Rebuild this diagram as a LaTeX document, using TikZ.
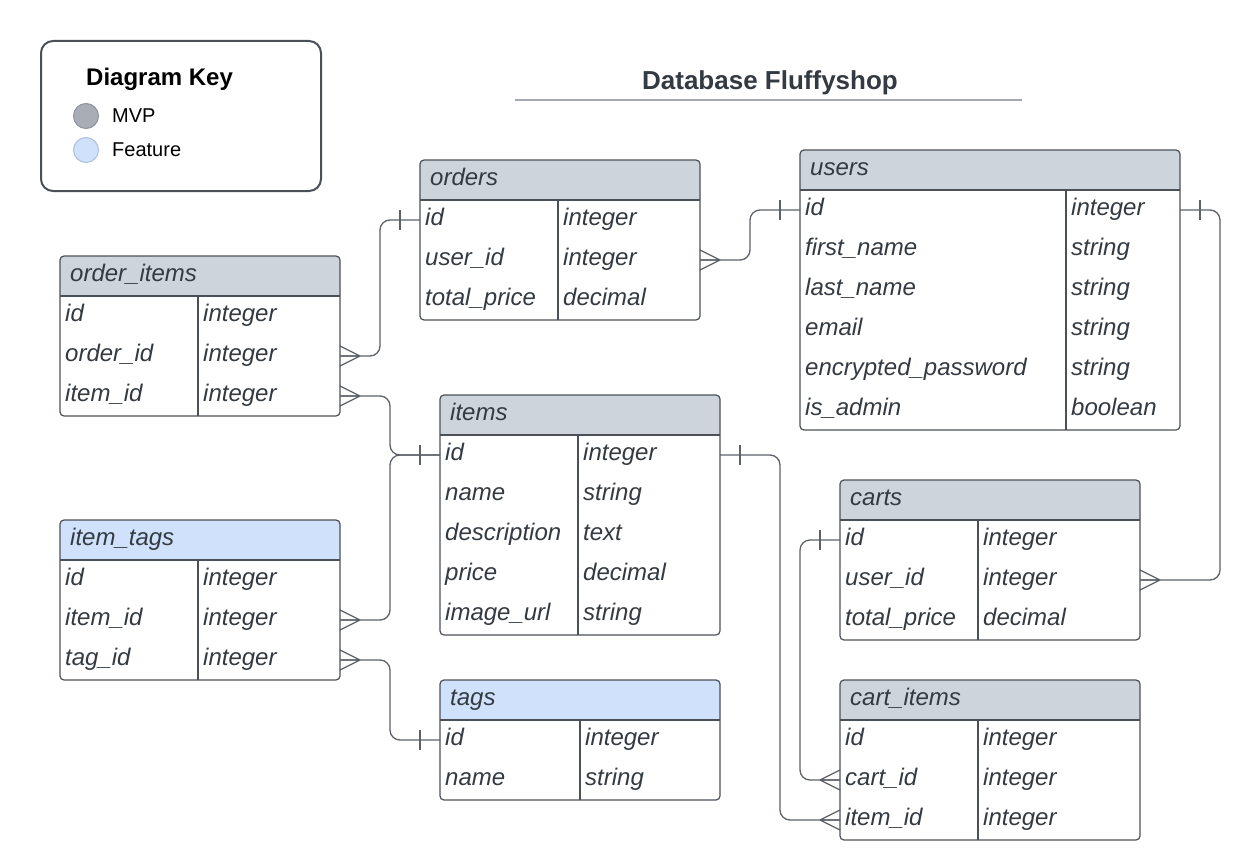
\documentclass[tikz,border=0pt]{standalone}
\usepackage{fontspec}
\setmainfont{Liberation Sans}
\usetikzlibrary{positioning}

\definecolor{hdgray}{HTML}{CED4DB}
\definecolor{hdblue}{HTML}{D0E2FB}
\definecolor{edge}{HTML}{4B5058}
\definecolor{ink}{HTML}{333A42}
\definecolor{wire}{HTML}{5C6168}
\definecolor{rulegray}{HTML}{A4A9B3}
\definecolor{mvpfill}{HTML}{A9ADB5}
\definecolor{mvpline}{HTML}{8E929A}
\definecolor{featline}{HTML}{AAC0DD}

\tikzset{
  cell/.style={minimum height=40, inner sep=0, outer sep=0},
  cellt/.style={anchor=base west, inner sep=0, text=ink, font=\fontsize{24}{28}\selectfont\itshape},
  tabframe/.style={draw=edge, line width=1.2pt, rounded corners=4},
  link/.style={draw=wire, line width=1.3pt, rounded corners=10},
  foot/.style={draw=wire, line width=1.3pt},
  keydot/.style={circle, minimum size=25, inner sep=0, line width=1pt}
}

% #1 name, #2 x, #3 y, #4 width, #5 divider, #6 header fill, #7 title, #8 rows
\newcommand{\dbtable}[8]{%
  \node[cell, minimum width=#4, anchor=north west] (#1-0) at (#2,#3) {};
  \fill[#6] (#1-0.south west) [rounded corners=4] -- (#1-0.north west) -- (#1-0.north east) [sharp corners] -- (#1-0.south east) -- cycle;
  \node[cellt] (#1-name) at ([shift={(10,5)}]#1-0.west) {#7};
  \foreach \fld/\typ [count=\i] in {#8} {
    \node[cell, minimum width=#4, anchor=north west] (#1-\i) at (#2,#3+40*\i) {};
    \node[cellt] (#1-\i-f) at ([shift={(5,5)}]#1-\i.west) {\fld};
    \node[cellt] (#1-\i-t) at ([shift={(#5+5,5)}]#1-\i.west) {\typ};
    \xdef\lastrow{\i}
  }
  \draw[tabframe] (#1-0.north west) rectangle (#1-\lastrow.south east);
  \draw[edge, line width=1.2pt] (#1-0.south west) -- (#1-0.south east)
    ([xshift=#5]#1-1.north west) -- ([xshift=#5]#1-\lastrow.south west);
}
% crow's foot and single bar, #2 = 1 for right side, -1 for left side
\newcommand{\manymark}[2]{\draw[foot] ([xshift=#2*20]#1) -- ([yshift=10]#1) ([xshift=#2*20]#1) -- (#1) ([xshift=#2*20]#1) -- ([yshift=-10]#1);}
\newcommand{\onemark}[2]{\draw[foot] ([shift={(#2*20,-10)}]#1) -- ([shift={(#2*20,10)}]#1);}

\begin{document}
\begin{tikzpicture}[x=1pt,y=-1pt]
  \useasboundingbox (0,0) rectangle (1244,867);

  % key
  \node[draw=edge, line width=2pt, rounded corners=12, minimum width=280, minimum height=150, anchor=north west] (key) at (40,40) {};
  \node[anchor=base west, inner sep=0, font=\bfseries\fontsize{24}{28}\selectfont] (keytitle) at (86,85) {Diagram Key};
  \node[keydot, fill=mvpfill, draw=mvpline] (mvpdot) at (86,116) {};
  \node[keydot, fill=hdblue, draw=featline] (featdot) at (86,150) {};
  \node[anchor=base west, inner sep=0, font=\fontsize{20}{24}\selectfont] (mvp) at (112,122) {MVP};
  \node[anchor=base west, inner sep=0, font=\fontsize{20}{24}\selectfont] (feat) at (112,156) {Feature};

  % title
  \node[anchor=base, inner sep=0, text=ink, font=\bfseries\fontsize{26}{30}\selectfont] (dbtitle) at (770,89) {Database Fluffyshop};
  \draw[rulegray, line width=2pt] (515,100) -- (1022,100);

  % tables
  \dbtable{orders}{420}{160}{280}{138}{hdgray}{orders}{id/integer, user\_id/integer, total\_price/decimal}
  \dbtable{users}{800}{150}{380}{266}{hdgray}{users}{id/integer, first\_name/string, last\_name/string, email/string, encrypted\_password/string, is\_admin/boolean}
  \dbtable{orderitems}{60}{256}{280}{138}{hdgray}{order\_items}{id/integer, order\_id/integer, item\_id/integer}
  \dbtable{items}{440}{395}{280}{138}{hdgray}{items}{id/integer, name/string, description/text, price/decimal, image\_url/string}
  \dbtable{itemtags}{60}{520}{280}{138}{hdblue}{item\_tags}{id/integer, item\_id/integer, tag\_id/integer}
  \dbtable{tags}{440}{680}{280}{140}{hdblue}{tags}{id/integer, name/string}
  \dbtable{carts}{840}{480}{300}{138}{hdgray}{carts}{id/integer, user\_id/integer, total\_price/decimal}
  \dbtable{cartitems}{840}{680}{300}{138}{hdgray}{cart\_items}{id/integer, cart\_id/integer, item\_id/integer}

  % relations
  \draw[link] (orderitems-2.east) -- ++(40,0) |- (orders-1.west);
  \manymark{orderitems-2.east}{1} \onemark{orders-1.west}{-1}
  \draw[link] (orders-2.east) -- ++(50,0) |- (users-1.west);
  \manymark{orders-2.east}{1} \onemark{users-1.west}{-1}
  \draw[link] (orderitems-3.east) -- ++(50,0) |- (items-1.west);
  \manymark{orderitems-3.east}{1} \onemark{items-1.west}{-1}
  \draw[link] (itemtags-2.east) -- ++(50,0) |- (items-1.west);
  \manymark{itemtags-2.east}{1}
  \draw[link] (itemtags-3.east) -- ++(50,0) |- (tags-1.west);
  \manymark{itemtags-3.east}{1} \onemark{tags-1.west}{-1}
  \draw[link] (users-1.east) -- ++(40,0) |- (carts-2.east);
  \onemark{users-1.east}{1} \manymark{carts-2.east}{1}
  \draw[link] (items-1.east) -- ++(60,0) |- (cartitems-3.west);
  \onemark{items-1.east}{1} \manymark{cartitems-3.west}{-1}
  \draw[link] (carts-1.west) -- ++(-40,0) |- (cartitems-2.west);
  \onemark{carts-1.west}{-1} \manymark{cartitems-2.west}{-1}
\end{tikzpicture}
\end{document}
